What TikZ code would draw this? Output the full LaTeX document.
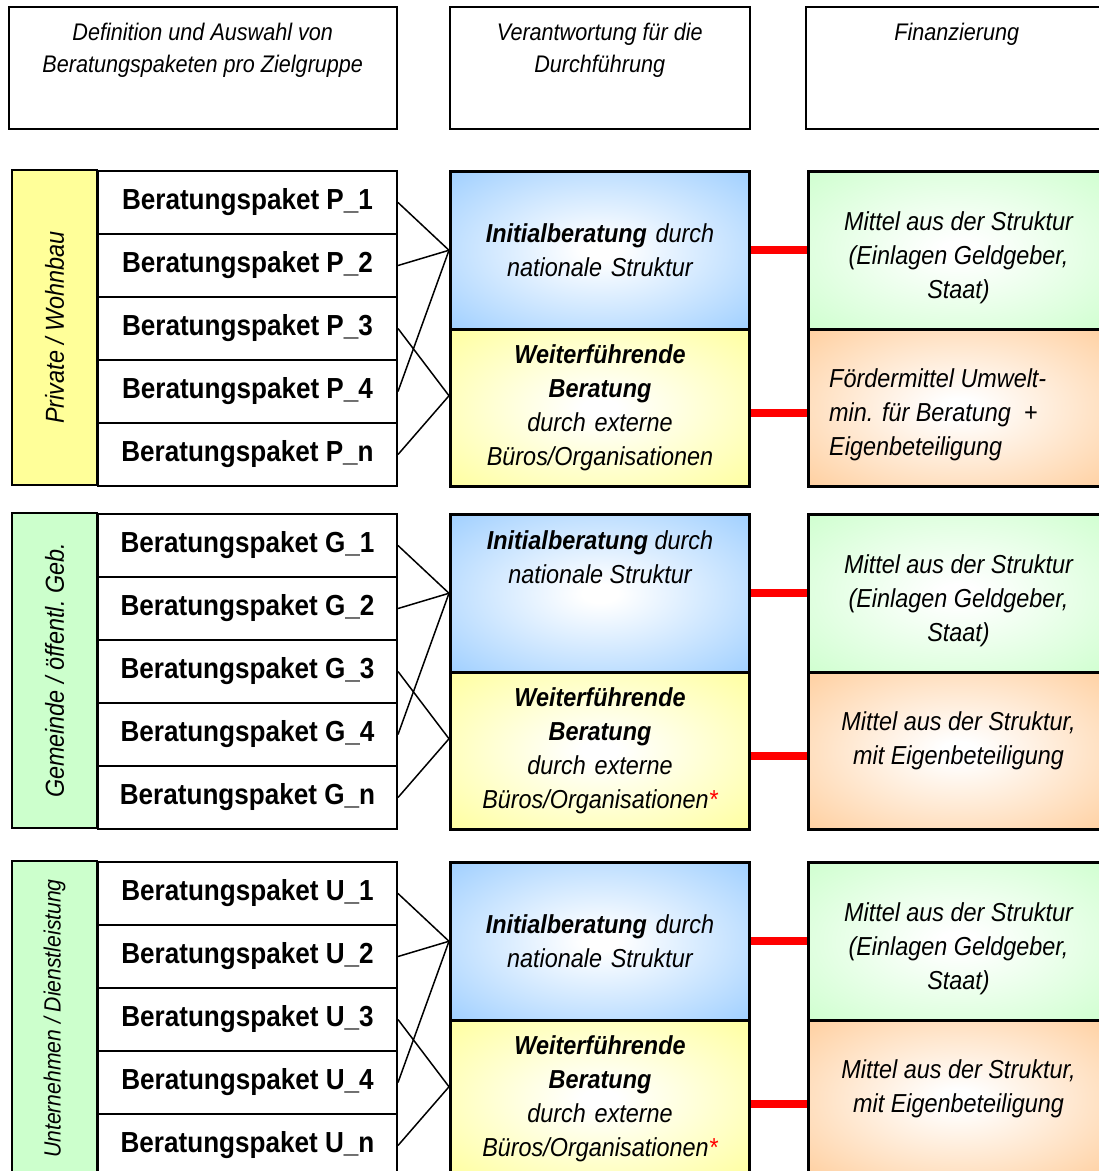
\documentclass[tikz,border=0pt]{standalone}
\usepackage{fontspec}
\setmainfont{Liberation Sans}[FakeStretch=0.9]
\usetikzlibrary{positioning}
\definecolor{bluecolor}{RGB}{153,204,255}
\definecolor{yellowcolor}{RGB}{255,255,153}
\definecolor{greencolor}{RGB}{204,255,204}
\definecolor{orangecolor}{RGB}{255,204,153}
\definecolor{redcolor}{RGB}{255,0,0}

% white centre, coloured edges
\pgfdeclareradialshading[glowcolor]{glow}{\pgfpoint{0bp}{0bp}}{color(0bp)=(white); color(3bp)=(white); color(38bp)=(glowcolor); color(50bp)=(glowcolor)}

\tikzset{
  headbox/.style={draw, line width=1.5, anchor=north west, minimum height=122},
  headtext/.style={inner sep=0, align=center, font=\fontsize{24}{32}\selectfont\itshape},
  groupbox/.style={draw, line width=2, fill=#1, rotate=90, minimum width=315, minimum height=85, font=\fontsize{26}{32}\selectfont\itshape},
  paketbox/.style={draw, line width=2, anchor=north west, minimum width=299, minimum height=63, font=\fontsize{29}{34}\selectfont\bfseries},
  glowbox/.style={draw, line width=3, anchor=north west, minimum width=299, minimum height=157.5, text width=285, align=center, font=\fontsize{26}{34}\selectfont\itshape, /utils/exec={\colorlet{glowcolor}{#1}}, shade, shading=glow},
  fundbox/.style={glowbox=#1, minimum width=300},
  fundtext/.style={inner sep=0, align=center, font=\fontsize{26}{34}\selectfont\itshape},
  linkline/.style={line width=1.5},
  fundline/.style={redcolor, line width=8}
}

\begin{document}
\begin{tikzpicture}[x=1pt, y=-1pt]
    \useasboundingbox (0,0) rectangle (1099,1171);
    \clip (0,0) rectangle (1099,1171);

    % Column headers
    \node[headbox, minimum width=388] (hdDef) at (8,6) {};
    \node[headtext, below=17pt of hdDef.north] {Definition und Auswahl von\\Beratungspaketen pro Zielgruppe};
    \node[headbox, minimum width=300] (hdVer) at (449,6) {};
    \node[headtext, below=17pt of hdVer.north] {Verantwortung für die\\Durchführung};
    \node[headbox, minimum width=302] (hdFin) at (805,6) {};
    \node[headtext, below=17pt of hdFin.north] {Finanzierung};

    % Private / Wohnbau
    \node[groupbox=yellowcolor] (grpP) at (54.5,327.5) {Private / Wohnbau};
    \foreach \i/\n in {1/1,2/2,3/3,4/4,5/n}
        \node[paketbox] (P\i) at (97,{170+63*(\i-1)}) {Beratungspaket P\_\n};
    \node[glowbox=bluecolor] (initP) at (449,170) {\textbf{Initialberatung} durch\\nationale Struktur};
    \node[glowbox=yellowcolor] (weitP) at (449,327.5) {\textbf{Weiterführende}\\\textbf{Beratung}\\durch externe\\Büros/Organisationen};
    \node[fundbox=greencolor] (mittelP) at (807,170) {};
    \node[fundtext] at ([yshift=-8pt]mittelP.center) {Mittel aus der Struktur\\(Einlagen Geldgeber,\\Staat)};
    \node[fundbox=orangecolor] (foerdP) at (807,327.5) {};
    \node[fundtext, align=left, anchor=north west, below right=41pt and 22pt of foerdP.north west] {Fördermittel Umwelt-\\min. für Beratung \ +\\Eigenbeteiligung};
    \coordinate (inP) at (initP.west);
    \coordinate (wtP) at ([yshift=12pt]weitP.west);
    \foreach \i in {1,2,4}
        \draw[linkline] (P\i.east) -- (inP);
    \foreach \i in {3,5}
        \draw[linkline] (P\i.east) -- (wtP);
    \draw[fundline] (initP.east) -- (mittelP.west);
    \draw[fundline] ([yshift=-5pt]weitP.east) -- ([yshift=-5pt]foerdP.west);

    % Gemeinde / oeffentl. Geb.
    \node[groupbox=greencolor] (grpG) at (54.5,670.5) {Gemeinde / öffentl.\ Geb.};
    \foreach \i/\n in {1/1,2/2,3/3,4/4,5/n}
        \node[paketbox] (G\i) at (97,{513+63*(\i-1)}) {Beratungspaket G\_\n};
    \node[glowbox=bluecolor] (initG) at (449,513) {};
    \node[fundtext, below=17pt of initG.north] {\textbf{Initialberatung} durch\\nationale Struktur};
    \node[glowbox=yellowcolor] (weitG) at (449,670.5) {\textbf{Weiterführende}\\\textbf{Beratung}\\durch externe\\Büros/Organisationen{\color{redcolor}*}};
    \node[fundbox=greencolor] (mittelG) at (807,513) {};
    \node[fundtext] at ([yshift=-8pt]mittelG.center) {Mittel aus der Struktur\\(Einlagen Geldgeber,\\Staat)};
    \node[fundbox=orangecolor] (eigenG) at (807,670.5) {};
    \node[fundtext] at ([yshift=10pt]eigenG.center) {Mittel aus der Struktur,\\mit Eigenbeteiligung};
    \coordinate (inG) at (initG.west);
    \coordinate (wtG) at ([yshift=12pt]weitG.west);
    \foreach \i in {1,2,4}
        \draw[linkline] (G\i.east) -- (inG);
    \foreach \i in {3,5}
        \draw[linkline] (G\i.east) -- (wtG);
    \draw[fundline] (initG.east) -- (mittelG.west);
    \draw[fundline] ([yshift=-5pt]weitG.east) -- ([yshift=-5pt]eigenG.west);

    % Unternehmen / Dienstleistung
    \node[groupbox=greencolor, font=\fontsize{23.5}{32}\selectfont\itshape] (grpU) at (54.5,1018.5) {Unternehmen / Dienstleistung};
    \foreach \i/\n in {1/1,2/2,3/3,4/4,5/n}
        \node[paketbox] (U\i) at (97,{861+63*(\i-1)}) {Beratungspaket U\_\n};
    \node[glowbox=bluecolor] (initU) at (449,861) {\textbf{Initialberatung} durch\\nationale Struktur};
    \node[glowbox=yellowcolor] (weitU) at (449,1018.5) {\textbf{Weiterführende}\\\textbf{Beratung}\\durch externe\\Büros/Organisationen{\color{redcolor}*}};
    \node[fundbox=greencolor] (mittelU) at (807,861) {};
    \node[fundtext] at ([yshift=-8pt]mittelU.center) {Mittel aus der Struktur\\(Einlagen Geldgeber,\\Staat)};
    \node[fundbox=orangecolor] (eigenU) at (807,1018.5) {};
    \node[fundtext] at ([yshift=10pt]eigenU.center) {Mittel aus der Struktur,\\mit Eigenbeteiligung};
    \coordinate (inU) at (initU.west);
    \coordinate (wtU) at ([yshift=12pt]weitU.west);
    \foreach \i in {1,2,4}
        \draw[linkline] (U\i.east) -- (inU);
    \foreach \i in {3,5}
        \draw[linkline] (U\i.east) -- (wtU);
    \draw[fundline] (initU.east) -- (mittelU.west);
    \draw[fundline] ([yshift=-5pt]weitU.east) -- ([yshift=-5pt]eigenU.west);
\end{tikzpicture}
\end{document}
